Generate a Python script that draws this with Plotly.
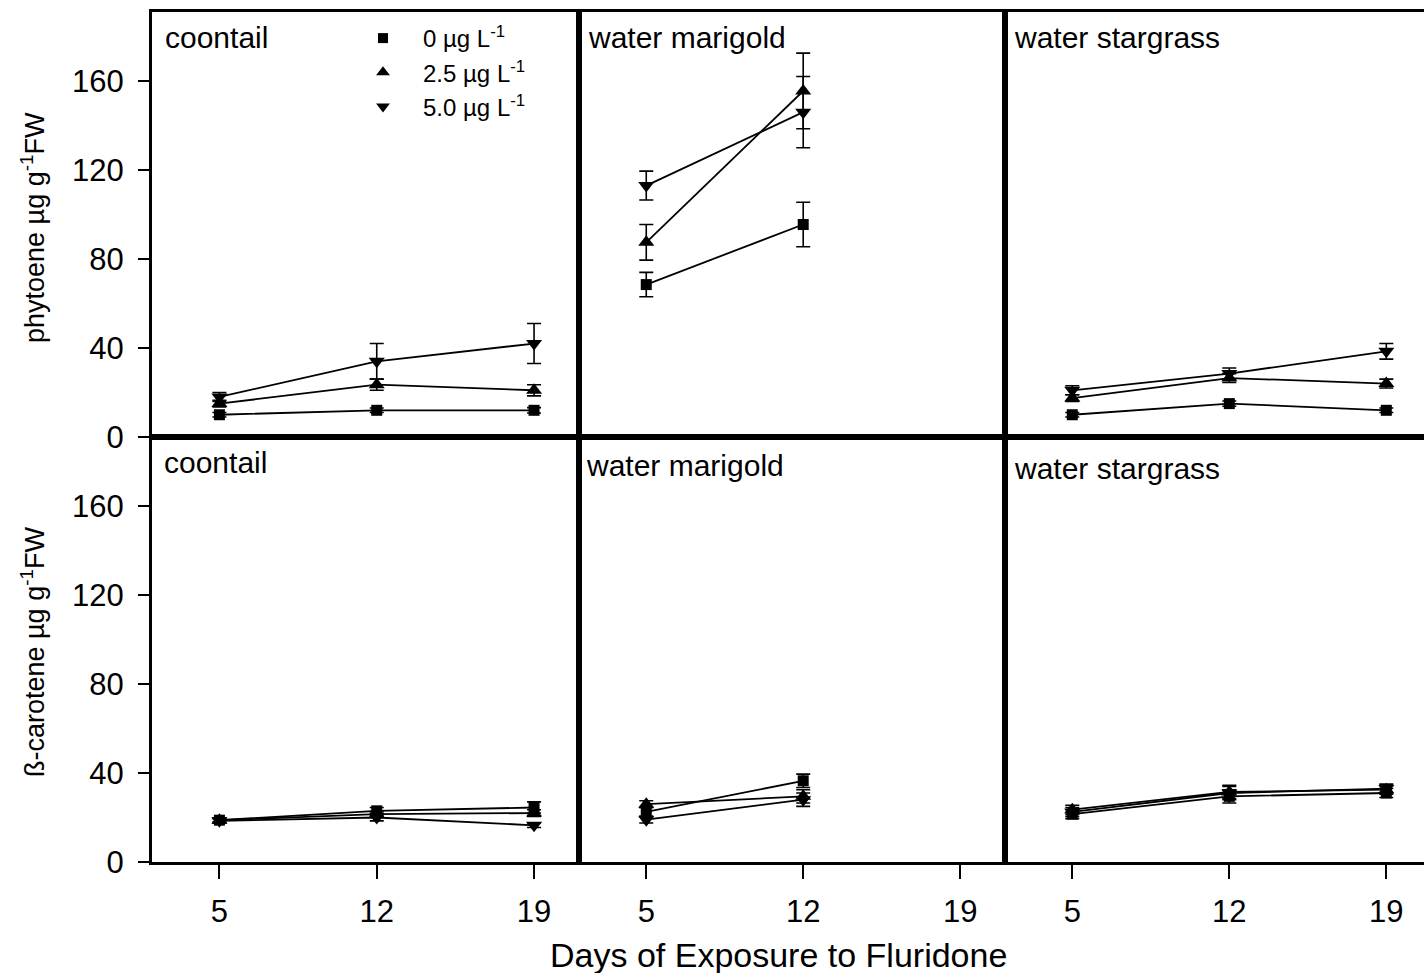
import plotly.graph_objects as go
from plotly.subplots import make_subplots

# ---------------- data ----------------
days = [5, 12, 19]
days_marigold = [5, 12]
species = ["coontail", "water marigold", "water stargrass"]
conc_labels = ["0 µg L<sup>-1</sup>", "2.5 µg L<sup>-1</sup>", "5.0 µg L<sup>-1</sup>"]
symbols = ["square", "triangle-up", "triangle-down"]
marker_sizes = [11, 14, 14]

# phytoene (µg g-1 FW): rows = 0, 2.5, 5.0 µg L-1
phy_coontail = [[10, 12, 12], [15, 23.5, 21], [18, 34, 42]]
phy_coontail_err = [[1, 1, 1.2], [1.5, 2.5, 2.5], [2, 8, 9]]
phy_marigold = [[68.5, 95.5], [87.5, 155.5], [113, 146]]
phy_marigold_err = [[5.5, 10], [8, 17], [6.5, 16]]
phy_stargrass = [[10, 15, 12], [17.5, 26.5, 24], [21, 28.5, 38.5]]
phy_stargrass_err = [[1, 1.2, 1], [1.5, 2, 2], [2, 2.5, 3.5]]

# beta-carotene (µg g-1 FW)
car_coontail = [[18.8, 23, 24.5], [18.8, 21.5, 22], [18.5, 20, 16.5]]
car_coontail_err = [[1, 1.5, 2.5], [1, 1, 1.5], [1, 1.5, 1]]
car_marigold = [[22.5, 36.5], [26, 29.5], [19, 28]]
car_marigold_err = [[2, 3], [1.5, 3], [1.5, 3]]
car_stargrass = [[21.5, 29.5, 31], [23.5, 31.5, 32.5], [22.5, 31, 33]]
car_stargrass_err = [[2, 3, 2], [2, 3, 2], [2, 3, 2]]

y_ticks = [0, 40, 80, 120, 160]

# ---------------- figure ----------------
W, H = 1424, 973
L, R, T, B = 152, 0, 12, 111
FONT = "Liberation Sans, Arial, Helvetica, sans-serif"

fig = make_subplots(rows=2, cols=3, horizontal_spacing=0, vertical_spacing=0,
                    column_widths=[427, 426, 419])

panels = [
    (1, 1, days, phy_coontail, phy_coontail_err),
    (1, 2, days_marigold, phy_marigold, phy_marigold_err),
    (1, 3, days, phy_stargrass, phy_stargrass_err),
    (2, 1, days, car_coontail, car_coontail_err),
    (2, 2, days_marigold, car_marigold, car_marigold_err),
    (2, 3, days, car_stargrass, car_stargrass_err),
]

for row, col, xs, means, errs in panels:
    for i in range(3):
        fig.add_trace(go.Scatter(
            x=xs, y=means[i], mode="lines+markers",
            line=dict(color="black", width=1.8),
            marker=dict(symbol=symbols[i], size=marker_sizes[i], color="black"),
            error_y=dict(type="data", array=errs[i], visible=True,
                         color="black", thickness=1.6, width=7),
            showlegend=False,
        ), row=row, col=col)

# legend-only traces
for i in range(3):
    fig.add_trace(go.Scatter(
        x=[None], y=[None], mode="markers", name=conc_labels[i],
        marker=dict(symbol=symbols[i], size=[10, 12, 12][i], color="black"),
        showlegend=True,
    ), row=1, col=1)

x_ranges = {1: [2, 21], 2: [2, 21], 3: [2, 20.68]}
for row in (1, 2):
    for col in (1, 2, 3):
        fig.update_xaxes(
            range=x_ranges[col], showgrid=False, zeroline=False,
            showline=True, linewidth=3, linecolor="black", mirror=True,
            tickvals=days,
            ticks="outside" if row == 2 else "",
            ticklen=14, tickwidth=1.5, tickcolor="black",
            showticklabels=(row == 2),
            ticklabelstandoff=6,
            tickfont=dict(family=FONT, size=31, color="black"),
            row=row, col=col)
        fig.update_yaxes(
            range=[0, 191], showgrid=False, zeroline=False,
            showline=True, linewidth=3, linecolor="black",
            mirror=(col != 3),
            tickvals=y_ticks,
            ticks="outside" if col == 1 else "",
            ticklen=11, tickwidth=1.5, tickcolor="black",
            showticklabels=(col == 1),
            ticklabelstandoff=8,
            tickfont=dict(family=FONT, size=31, color="black"),
            row=row, col=col)

pw, ph = W - L - R, H - T - B


def px(x):
    return (x - L) / pw


def py(y):
    return (H - B - y) / ph


annotations = []
label_pos = [
    ("coontail", 163, 19), ("water marigold", 586, 19), ("water stargrass", 1012, 19),
    ("coontail", 162, 444), ("water marigold", 584, 447), ("water stargrass", 1012, 450),
]
for text, x0, y0 in label_pos:
    annotations.append(dict(text=text, x=px(x0), y=py(y0), xref="paper", yref="paper",
                            xanchor="left", yanchor="top", showarrow=False,
                            font=dict(family=FONT, size=30, color="black")))

annotations.append(dict(text="phytoene µg g<sup>-1</sup>FW", x=px(33), y=py(228),
                        xref="paper", yref="paper", textangle=-90, showarrow=False,
                        xanchor="center", yanchor="middle",
                        font=dict(family=FONT, size=27, color="black")))
annotations.append(dict(text="ß-carotene µg g<sup>-1</sup>FW", x=px(33), y=py(652),
                        xref="paper", yref="paper", textangle=-90, showarrow=False,
                        xanchor="center", yanchor="middle",
                        font=dict(family=FONT, size=27, color="black")))
annotations.append(dict(text="Days of Exposure to Fluridone", x=px(778), y=py(955),
                        xref="paper", yref="paper", showarrow=False,
                        xanchor="center", yanchor="middle",
                        font=dict(family=FONT, size=34, color="black")))

fig.update_layout(
    width=W, height=H,
    margin=dict(l=L, r=R, t=T, b=B),
    paper_bgcolor="white", plot_bgcolor="white",
    font=dict(family=FONT, color="black"),
    annotations=annotations,
    showlegend=True,
    legend=dict(x=px(343), y=py(16), xanchor="left", yanchor="top",
                bgcolor="rgba(0,0,0,0)", borderwidth=0,
                font=dict(family=FONT, size=24, color="black"),
                itemwidth=70, tracegroupgap=0),
)

fig.write_html("out.html")
